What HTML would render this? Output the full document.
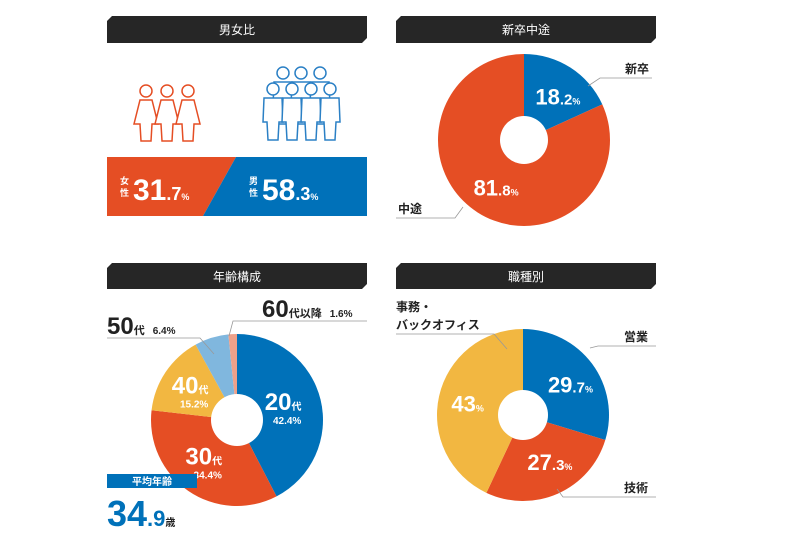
<!DOCTYPE html>
<html><head><meta charset="utf-8">
<style>
body{margin:0;width:800px;height:544px;background:#fff;overflow:hidden;font-family:"Liberation Sans","Noto Sans CJK JP",sans-serif;}
svg{display:block}
</style></head><body>
<svg id="c" width="800" height="544" viewBox="0 0 800 544" xmlns="http://www.w3.org/2000/svg" font-family="Liberation Sans, Noto Sans CJK JP, sans-serif">
<g>
<polygon points="112,16 367,16 367,38 362,43 107,43 107,21" fill="#262626"/>
<text x="237" y="34" fill="#fff" font-size="12" text-anchor="middle">男女比</text>
<polygon points="401,16 656,16 656,38 651,43 396,43 396,21" fill="#262626"/>
<text x="526" y="34" fill="#fff" font-size="12" text-anchor="middle">新卒中途</text>
<polygon points="112,263 367,263 367,284 362,289 107,289 107,268" fill="#262626"/>
<text x="237" y="281" fill="#fff" font-size="12" text-anchor="middle">年齢構成</text>
<polygon points="401,263 656,263 656,284 651,289 396,289 396,268" fill="#262626"/>
<text x="526" y="281" fill="#fff" font-size="12" text-anchor="middle">職種別</text>
</g>
<g id="people" fill="none" stroke-width="1.5"></g>
<g>
<polygon points="107,157 236,157 203,216 107,216" fill="#e54e24"/>
<polygon points="236,157 367,157 367,216 203,216" fill="#0071b9"/>
<text x="120" y="184" fill="#fff" font-size="9" font-weight="bold">女</text>
<text x="120" y="196" fill="#fff" font-size="9" font-weight="bold">性</text>
<text x="133" y="200" fill="#fff" font-weight="bold"><tspan font-size="30">31</tspan><tspan font-size="18">.7</tspan><tspan font-size="9">%</tspan></text>
<text x="249" y="184" fill="#fff" font-size="9" font-weight="bold">男</text>
<text x="249" y="196" fill="#fff" font-size="9" font-weight="bold">性</text>
<text x="262" y="200" fill="#fff" font-weight="bold"><tspan font-size="30">58</tspan><tspan font-size="18">.3</tspan><tspan font-size="9">%</tspan></text>
</g>
<g id="pie1"></g>
<g id="pie2"></g>
<g id="pie3"></g>
<g stroke="#999" stroke-width="0.8" fill="none">
<polyline points="588,86 600,78 652,78"/>
<polyline points="463,207 455,218 396,218"/>
<polyline points="214,354 200,338 107,338"/>
<polyline points="229,336 233,321 367,321"/>
<polyline points="507,349 494,334 396,334"/>
<polyline points="590,348 598,346 656,346"/>
<polyline points="557,489 563,497 656,497"/>
</g>
<g font-weight="bold" fill="#222">
<text x="625" y="73" font-size="12">新卒</text>
<text x="398" y="213" font-size="12">中途</text>
<text x="107" y="334"><tspan font-size="24">50</tspan><tspan font-size="11">代</tspan><tspan font-size="10" dx="8">6.4%</tspan></text>
<text x="262" y="317"><tspan font-size="24">60</tspan><tspan font-size="11">代以降</tspan><tspan font-size="10" dx="8">1.6%</tspan></text>
<text x="396" y="311" font-size="12">事務・</text>
<text x="396" y="329" font-size="12">バックオフィス</text>
<text x="624" y="341" font-size="12">営業</text>
<text x="624" y="492" font-size="12">技術</text>
</g>
<g>
<rect x="107" y="474" width="90" height="14" fill="#0071b9"/>
<text x="152" y="485" fill="#fff" font-size="10" font-weight="bold" text-anchor="middle">平均年齢</text>
<text x="107" y="526" fill="#0071b9" font-weight="bold"><tspan font-size="36">34</tspan><tspan font-size="22">.9</tspan><tspan font-size="10" fill="#222">歳</tspan></text>
</g>
</svg>
<script>
const NS="http://www.w3.org/2000/svg";
// data
const hireCats=["新卒","中途"];
const hireVals=[18.2,81.8];
const ageCats=["20代","30代","40代","50代","60代以降"];
const ageVals=[42.4,34.4,15.2,6.4,1.6];
const jobCats=["営業","技術","事務・バックオフィス"];
const jobVals=[29.7,27.3,43.0];
const C={blue:"#0071b9",orange:"#e54e24",yellow:"#f2b741",lblue:"#80b7de",pink:"#eea18a"};
function mk(tag,attrs,parent){const e=document.createElementNS(NS,tag);for(const k in attrs)e.setAttribute(k,attrs[k]);parent.appendChild(e);return e;}
function pie(gid,vals,cats,colors,cx,cy,r,hole,labelFn){
  const g=document.getElementById(gid);
  const tot=vals.reduce((a,b)=>a+b,0);let a0=0;
  vals.forEach((v,i)=>{
    const a1=a0+v/tot*2*Math.PI;
    const x0=cx+r*Math.sin(a0),y0=cy-r*Math.cos(a0),x1=cx+r*Math.sin(a1),y1=cy-r*Math.cos(a1);
    const p=mk("path",{d:`M${cx},${cy}L${x0},${y0}A${r},${r} 0 ${a1-a0>Math.PI?1:0} 1 ${x1},${y1}Z`,fill:colors[i]},g);
    
    
    const mid=(a0+a1)/2;
    if(labelFn)labelFn(g,i,v,cx+Math.sin(mid)*r*0.6,cy-Math.cos(mid)*r*0.6);
    a0=a1;
  });
  const h=mk("circle",{cx:cx,cy:cy,r:hole,fill:"#fff"},g);
  
  
}
function pct(g,x,y,v,big,small){
  const s=v.toFixed(1).split(".");
  const t=mk("text",{x:x,y:y,fill:"#fff","font-weight":"bold","text-anchor":"middle"},g);
  
  
  const a=mk("tspan",{"font-size":big},t);a.textContent=s[0];
  if(s[1]!=="0"){const b=mk("tspan",{"font-size":small},t);b.textContent="."+s[1];}
  const c=mk("tspan",{"font-size":9},t);c.textContent="%";
}
pie("pie1",hireVals,hireCats,[C.blue,C.orange],524,140,86,24,(g,i,v,x,y)=>{pct(g,x+(i?0:6),y+(i?12:8),v,22,15);});
pie("pie3",jobVals,jobCats,[C.blue,C.orange,C.yellow],523,415,86,25,(g,i,v,x,y)=>{pct(g,x+(i==2?-5:6),y+8,v,22,15);});
pie("pie2",ageVals,ageCats,[C.blue,C.orange,C.yellow,C.lblue,C.pink],237,420,86,26,(g,i,v,x,y)=>{
  if(i>2)return;
  const t=mk("text",{x:x-4,y:y+2,fill:"#fff","font-weight":"bold","text-anchor":"middle"},g);
  
  
  const a=mk("tspan",{"font-size":24},t);a.textContent=ageCats[i].replace("代","");
  const b=mk("tspan",{"font-size":10},t);b.textContent="代";
  const t2=mk("text",{x:x,y:y+16,fill:"#fff","font-weight":"bold","font-size":10,"text-anchor":"middle"},g);
  
  
  t2.textContent=v.toFixed(1)+"%";
});
// people icons
const pg=document.getElementById("people");
function person(x,y,col,female){
  const g=mk("g",{stroke:col},pg);
  
  
  mk("circle",{cx:x,cy:y,r:6,fill:"#fff"},g);
  if(female) mk("path",{d:`M${x-6},${y+9}L${x+6},${y+9}L${x+12},${y+33}L${x+6},${y+33}L${x+5},${y+50}L${x-5},${y+50}L${x-6},${y+33}L${x-12},${y+33}Z`,fill:"#fff"},g);
  else mk("path",{d:`M${x-9},${y+9}L${x+9},${y+9}L${x+10},${y+33}L${x+6},${y+33}L${x+5},${y+51}L${x-5},${y+51}L${x-6},${y+33}L${x-10},${y+33}Z`,fill:"#fff"},g);
}
[146,167,188].forEach(x=>person(x,91,"#e54e24",true));
[283,301,320].forEach(x=>person(x,73,"#2b80c5",false));
[273,292,311,330].forEach(x=>person(x,89,"#2b80c5",false));
</script>
</body></html>
